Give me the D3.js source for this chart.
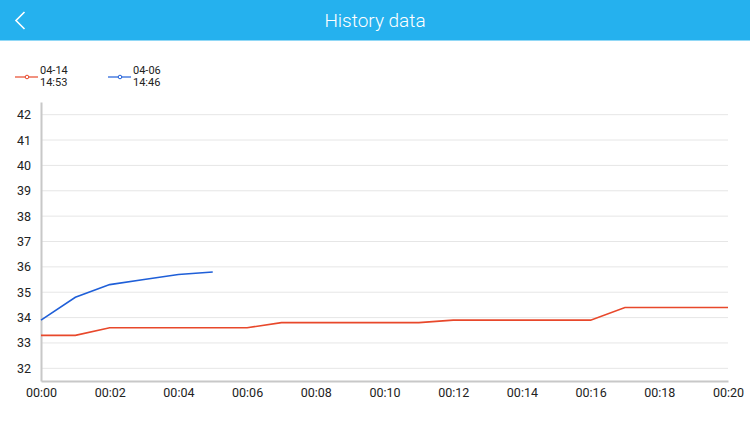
<!DOCTYPE html>
<html><head><meta charset="utf-8">
<script src="https://cdn.jsdelivr.net/npm/d3@7"></script>
<style>html,body{margin:0;padding:0;background:#fff;}svg{display:block;font-family:"Helvetica Neue",Roboto,"Liberation Sans",Arial,sans-serif;}</style>
</head><body>
<svg id="c" width="750" height="422"></svg>
<script>
const title = "History data";
const minutes = [0,1,2,3,4,5,6,7,8,9,10,11,12,13,14,15,16,17,18,19,20];
const seriesA = [33.3,33.3,33.6,33.6,33.6,33.6,33.6,33.8,33.8,33.8,33.8,33.8,33.9,33.9,33.9,33.9,33.9,34.4,34.4,34.4,34.4];
const seriesB = [33.9,34.8,35.3,35.5,35.7,35.8];
const legendLabels = [["04-14","14:53"],["04-06","14:46"]];
const colors = ["#e8482b","#1f5fd8"];
const yTicks = [32,33,34,35,36,37,38,39,40,41,42];
const xTicks = [0,2,4,6,8,10,12,14,16,18,20];

const svg = d3.select("#c");
// header
svg.append("rect").attr("x",0).attr("y",0).attr("width",750).attr("height",40.5).attr("fill","#25b1ee");
svg.append("text").attr("x",375).attr("y",27).attr("text-anchor","middle").attr("fill","#fff")
  .attr("font-size",19).attr("font-weight",300).text(title);
svg.append("path").attr("d","M24.5,12 L16,20.5 L24.5,29").attr("fill","none").attr("stroke","#fff").attr("stroke-width",1.6);

const x = d3.scaleLinear().domain([0,20]).range([41,728]);
const y = d3.scaleLinear().domain([31.5,42.5]).range([381,102]);

// grid
svg.append("g").selectAll("line").data(yTicks).join("line")
  .attr("x1",41).attr("x2",728).attr("y1",d=>y(d)).attr("y2",d=>y(d))
  .attr("stroke","#e6e6e6").attr("stroke-width",1);

// axes
const yAxis = svg.append("g").attr("transform","translate(41,0)")
  .call(d3.axisLeft(y).tickValues(yTicks).tickSize(0).tickPadding(10));
const xAxis = svg.append("g").attr("transform","translate(0,381)")
  .call(d3.axisBottom(x).tickValues(xTicks).tickSize(0).tickPadding(7)
    .tickFormat(d=>"00:"+String(d).padStart(2,"0")));
[yAxis,xAxis].forEach(g=>{
  g.select(".domain").attr("stroke","#c8c8c8").attr("stroke-width",2);
  g.selectAll("text").attr("fill","#222").attr("font-size",12.5).attr("font-family","\"Helvetica Neue\",Roboto,\"Liberation Sans\",Arial,sans-serif");
});

const line = d3.line().x((d,i)=>x(minutes[i])).y(d=>y(d));
[seriesA,seriesB].forEach((s,k)=>{
  svg.append("path").datum(s).attr("d",line).attr("fill","none")
    .attr("stroke",colors[k]).attr("stroke-width",1.6);
});

// legend
const lx = [15,108];
legendLabels.forEach((lab,k)=>{
  const g = svg.append("g");
  g.append("line").attr("x1",lx[k]).attr("x2",lx[k]+23).attr("y1",77).attr("y2",77).attr("stroke",colors[k]).attr("stroke-width",1.2);
  g.append("circle").attr("cx",lx[k]+12).attr("cy",77).attr("r",1.8).attr("fill","#fff").attr("stroke",colors[k]).attr("stroke-width",1);
  g.append("text").attr("x",lx[k]+25).attr("y",74).attr("font-size",11).attr("fill","#222").text(lab[0]);
  g.append("text").attr("x",lx[k]+25).attr("y",86).attr("font-size",11).attr("fill","#222").text(lab[1]);
});
</script>
</body></html>
